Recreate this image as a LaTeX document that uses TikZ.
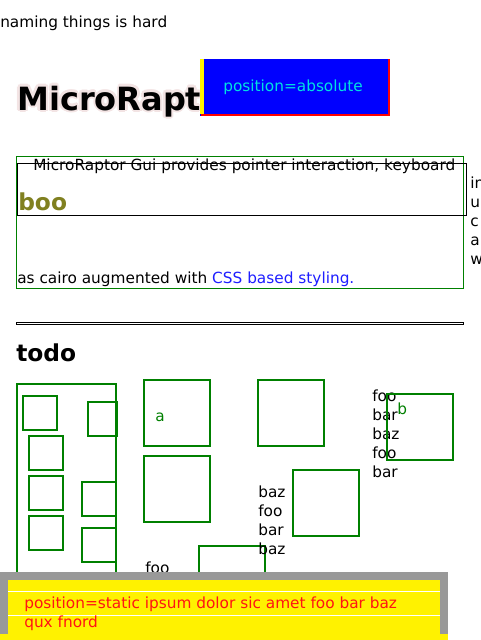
\documentclass[tikz,border=0pt]{standalone}
\usepackage{fontspec}
\setmainfont{DejaVu Sans}
\definecolor{webgreen}{RGB}{0,128,0}
\definecolor{boxblue}{RGB}{0,0,255}
\definecolor{abscyan}{RGB}{0,225,225}
\definecolor{linkblue}{RGB}{30,30,255}
\definecolor{booolive}{RGB}{128,128,32}
\definecolor{glowpink}{RGB}{243,228,228}
\definecolor{framegray}{RGB}{153,153,153}
\definecolor{staticred}{RGB}{255,20,20}
\begin{document}
\begin{tikzpicture}[x=0.75pt,y=-0.75pt,
  txt/.style={anchor=base west, inner sep=0pt, font=\fontsize{11.5}{13.8}\selectfont},
  bigbold/.style={anchor=base west, inner sep=0pt, font=\fontsize{24}{28}\selectfont\bfseries},
  midbold/.style={anchor=base west, inner sep=0pt, font=\fontsize{17.5}{21}\selectfont\bfseries},
  gbox/.style={draw=webgreen, line width=1.5pt},
  thinbox/.style={line width=0.75pt}]
\useasboundingbox (0,0) rectangle (480,640);
\fill[white] (0,0) rectangle (480,640);

% top text
\node[txt] (naming) at (0,27.5) {naming things is hard};

% heading with glow
\foreach \dx/\dy [count=\i] in {-1.5/0,1.5/0,0/-1.5,0/1.5,-1.2/-1.2,1.2/-1.2,-1.2/1.2,1.2/1.2,2.5/0,0/2.5,-2.5/0,0/-2.5,1.8/1.8,-1.8/1.8,1.8/-1.8,-1.8/-1.8}
  \node[bigbold, text=glowpink] (glow\i) at (17+\dx,110+\dy) {MicroRapt};
\node[bigbold] (heading) at (17,110) {MicroRapt};

% absolute box
\fill[boxblue] (200,59) rectangle (390,116);
\fill[yellow] (200,59) rectangle (203.5,114);
\fill[red] (201,113.5) rectangle (390,116);
\fill[red] (387.5,59) rectangle (390,116);
\node[txt, text=abscyan] (posabs) at (223,91.5) {position=absolute};

% paragraph block
\node[txt] (line1) at (33,170) {MicroRaptor Gui provides pointer interaction, keyboard};
\draw[webgreen, thinbox] (16.5,156.5) rectangle (463.5,288.5);
\draw[black, thinbox] (17.5,163.5) rectangle (466.5,215.5);
\node[midbold, text=booolive] (boo) at (18,210) {boo};
\foreach \w/\yy [count=\i] in {in/188,u/207,c/226,a/245,w/264}
  \node[txt] (rc\i) at (470,\yy) {\w};
\node[txt] (cairo) at (17,283) {as cairo augmented with \textcolor{linkblue}{CSS based styling.}};

% horizontal rule
\draw[black, thinbox] (16.5,322.5) rectangle (463.5,324.8);

% todo
\node[midbold] (todo) at (16,361.5) {todo};

% container and inner boxes
\draw[gbox] (16.7,384) rectangle (116,645);
\draw[gbox] (23,396) rectangle (57,430);
\draw[gbox] (88,402) rectangle (117.3,436);
\draw[gbox] (29,436) rectangle (63,470);
\draw[gbox] (29,476) rectangle (63,510);
\draw[gbox] (29,516) rectangle (63,550);
\draw[gbox] (82,482) rectangle (116,516);
\draw[gbox] (82,528) rectangle (116,562);

% second column
\draw[gbox] (144,380) rectangle (210,446);
\node[txt, text=webgreen] (la) at (155,421) {a};
\draw[gbox] (144,456) rectangle (210,522);
\draw[gbox] (199,546) rectangle (265,612);
\node[txt] (foo0) at (145,573) {foo};

% third column
\draw[gbox] (258,380) rectangle (324,446);
\draw[gbox] (293,470) rectangle (359,536);
\foreach \w/\yy [count=\i] in {baz/497,foo/516,bar/535,baz/554}
  \node[txt] (cA\i) at (258,\yy) {\w};

% fourth column
\foreach \w/\yy [count=\i] in {foo/401,bar/420,baz/439,foo/458,bar/477}
  \node[txt] (cB\i) at (372,\yy) {\w};
\draw[gbox] (387,394) rectangle (453,460);
\node[txt, text=webgreen] (lb) at (397,414) {b};

% static box
\fill[framegray] (0,572) rectangle (448,640);
\fill[yellow] (8,580) rectangle (440,640);
\fill[yellow] (0,634) rectangle (448,640);
\draw[white, line width=0.5pt] (8,591.7) -- (440,591.7);
\draw[white, line width=0.5pt] (8,615.3) -- (440,615.3);
\node[txt, text=staticred] (stat1) at (24,608.5) {position=static ipsum dolor sic amet foo bar baz};
\node[txt, text=staticred] (stat2) at (24,627) {qux fnord};
\end{tikzpicture}
\end{document}
